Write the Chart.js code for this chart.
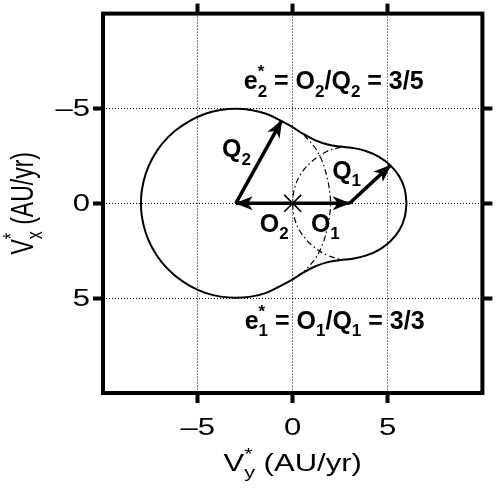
<!DOCTYPE html>
<html>
<head>
<meta charset="utf-8">
<script src="https://cdn.jsdelivr.net/npm/chart.js@4.4.0/dist/chart.umd.min.js"></script>
<style>
  html, body { margin: 0; padding: 0; background: #fff; }
  #wrap { width: 496px; height: 490px; }
</style>
</head>
<body>
<div id="wrap"><canvas id="vplot" width="496" height="490"></canvas></div>
<script>
// tick marks / labels (same for both axes)
var tickVals = [-5, 0, 5];
var tickText = ['\u20135', '0', '5'];

// outline of the region, V_y* (horizontal) and V_x* (vertical)
var shapeVy = [6.00, 5.90, 5.62, 5.15, 4.55, 3.85, 3.15, 2.50, 1.85, 1.20, 0.55, 0.00, -0.61,
  -1.40, -2.20, -3.00, -3.80, -4.60, -5.40, -6.20, -6.90, -7.40, -7.75, -7.95, -8.00,
  -7.95, -7.75, -7.40, -6.90, -6.20, -5.40, -4.60, -3.80, -3.00, -2.20, -1.40, -0.61,
  0.00, 0.55, 1.20, 1.85, 2.50, 3.15, 3.85, 4.55, 5.15, 5.62, 5.90, 6.00];
var shapeVx = [0.00, -0.75, -1.42, -2.00, -2.45, -2.76, -2.92, -2.99, -3.10, -3.32, -3.66, -4.01, -4.34,
  -4.72, -4.92, -4.98, -4.92, -4.72, -4.36, -3.82, -3.12, -2.36, -1.55, -0.70, 0.00,
  0.70, 1.55, 2.36, 3.12, 3.82, 4.36, 4.72, 4.92, 4.98, 4.92, 4.72, 4.34,
  4.01, 3.66, 3.32, 3.10, 2.99, 2.92, 2.76, 2.45, 2.00, 1.42, 0.75, 0.00];

// inner arc of the small circle (through the origin)
var arcSmallVy = [2.55, 1.80, 1.00, 0.40, 0.10, 0.00, 0.10, 0.40, 1.00, 1.80, 2.55];
var arcSmallVx = [-2.97, -2.73, -2.20, -1.50, -0.80, 0.00, 0.80, 1.50, 2.20, 2.73, 2.97];
// inner arc of the big circle
var arcBigVy = [0.60, 1.20, 1.60, 1.85, 1.95, 2.00, 1.95, 1.85, 1.60, 1.20, 0.60];
var arcBigVx = [-3.60, -2.90, -2.10, -1.20, -0.60, 0.00, 0.60, 1.20, 2.10, 2.90, 3.60];

// vectors [fromVy, fromVx, toVy, toVx]
var vecO2 = [0, 0, -3, 0];
var vecO1 = [0, 0, 3, 0];
var vecQ2 = [-3, 0, -0.58, -4.36];
var vecQ1 = [3, 0, 5.15, -2.00];
var originPt = [0, 0];

var FONT = '"Liberation Sans", Arial, Helvetica, sans-serif';
var SX = 1.35;   // axis text is drawn a bit wide, like the original

function pts(xs, ys) {
  return xs.map(function (v, i) { return {x: v, y: ys[i]}; });
}
function seg(v) {
  return [{x: v[0], y: v[1]}, {x: v[2], y: v[3]}];
}

function richLayout(ctx, parts, size, weight) {
  var items = [], cx = 0, supW = 0;
  parts.forEach(function (p) {
    var role = p[1] || '';
    var fs = role ? Math.round(size * 0.68) : size;
    var f = weight + ' ' + fs + 'px ' + FONT;
    ctx.font = f;
    var w = ctx.measureText(p[0]).width;
    var dy = role === 'sup' ? -size * 0.48 : (role === 'sub' ? size * 0.3 : 0);
    items.push({t: p[0], font: f, x: cx, y: dy});
    if (role === 'sup') supW = w;
    else if (role === 'sub') { cx += Math.max(w, supW); supW = 0; }
    else cx += w;
  });
  return {items: items, width: cx};
}

function drawRich(ctx, parts, x, y, o) {
  ctx.save();
  var lay = richLayout(ctx, parts, o.size, o.weight || 'normal');
  ctx.translate(x, y);
  if (o.rotate) { ctx.rotate(-Math.PI / 2); ctx.scale(1, o.sx || 1); }
  else ctx.scale(o.sx || 1, 1);
  var off = 0;
  if (o.align === 'center') off = -lay.width / 2;
  if (o.align === 'right') off = -lay.width;
  ctx.fillStyle = '#000';
  ctx.textBaseline = 'alphabetic';
  ctx.textAlign = 'left';
  lay.items.forEach(function (it) {
    ctx.font = it.font;
    ctx.fillText(it.t, it.x + off, it.y);
  });
  ctx.restore();
}

var eq2 = [['e'], ['*', 'sup'], ['2', 'sub'], [' = O'], ['2', 'sub'], ['/Q'], ['2', 'sub'], [' = 3/5']];
var eq1 = [['e'], ['*', 'sup'], ['1', 'sub'], [' = O'], ['1', 'sub'], ['/Q'], ['1', 'sub'], [' = 3/3']];

var arrowHeads = {
  id: 'arrowHeads',
  afterDatasetsDraw: function (chart) {
    var ctx = chart.ctx;
    chart.data.datasets.forEach(function (ds, i) {
      if (!ds.arrow) return;
      var p = chart.getDatasetMeta(i).data;
      var a = p[0], b = p[p.length - 1];
      var ang = Math.atan2(b.y - a.y, b.x - a.x);
      ctx.save();
      ctx.translate(b.x, b.y);
      ctx.rotate(ang);
      ctx.beginPath();
      ctx.moveTo(1, 0);
      ctx.lineTo(-17, -7);
      ctx.lineTo(-12, 0);
      ctx.lineTo(-17, 7);
      ctx.closePath();
      ctx.fillStyle = '#000';
      ctx.fill();
      ctx.restore();
    });
  }
};

var texts = {
  id: 'texts',
  afterDraw: function (chart) {
    var ctx = chart.ctx, xs = chart.scales.x, ys = chart.scales.y, a = chart.chartArea;
    ctx.save();
    ctx.lineWidth = 4;
    ctx.strokeStyle = '#000';
    ctx.strokeRect(a.left, a.top, a.right - a.left, a.bottom - a.top);
    ctx.restore();

    tickVals.forEach(function (v, i) {
      drawRich(ctx, [[tickText[i]]], xs.getPixelForValue(v), 435, {size: 23, sx: SX, align: 'center'});
      drawRich(ctx, [[tickText[i]]], 90, ys.getPixelForValue(v) + 8, {size: 23, sx: SX, align: 'right'});
    });

    drawRich(ctx, [['V'], ['*', 'sup'], ['y', 'sub'], [' (AU/yr)']], (a.left + a.right) / 2, 471,
      {size: 23, sx: SX, align: 'center'});
    drawRich(ctx, [['V'], ['*', 'sup'], ['x', 'sub'], [' (AU/yr)']], 33, (a.top + a.bottom) / 2,
      {size: 23, sx: SX, align: 'center', rotate: true});

    var notes = [
      {parts: [['Q'], ['2', 'sub']], vy: -3.73, vx: -2.44},
      {parts: [['Q'], ['1', 'sub']], vy: 2.08, vx: -1.30},
      {parts: [['O'], ['2', 'sub']], vy: -1.74, vx: 1.50},
      {parts: [['O'], ['1', 'sub']], vy: 0.96, vx: 1.50},
      {parts: eq2, vy: -2.58, vx: -6.00},
      {parts: eq1, vy: -2.53, vx: 6.60}
    ];
    notes.forEach(function (n) {
      drawRich(ctx, n.parts, xs.getPixelForValue(n.vy), ys.getPixelForValue(n.vx),
        {size: 25, weight: 'bold'});
    });
  }
};

function axis(pos, size, onArea, reverse) {
  var vert = pos === 'left' || pos === 'right';
  return {
    type: 'linear',
    position: pos,
    axis: vert ? 'y' : 'x',
    min: -10,
    max: 10,
    reverse: !!reverse,
    afterBuildTicks: function (s) { s.ticks = tickVals.map(function (v) { return {value: v}; }); },
    afterFit: function (s) { if (vert) s.width = size; else s.height = size; },
    ticks: {display: false},
    grid: {
      drawOnChartArea: onArea,
      color: '#000',
      lineWidth: 1,
      drawTicks: true,
      tickLength: 10,
      tickWidth: 4,
      tickColor: '#000'
    },
    border: {display: false, dash: [1, 2]}
  };
}

var lineDs = function (data, width, dash) {
  return {
    type: 'scatter', data: data, showLine: true, borderColor: '#000', borderWidth: width,
    borderDash: dash || [], pointRadius: 0, fill: false, tension: 0
  };
};

var outline = lineDs(pts(shapeVy, shapeVx), 2);
outline.tension = 0.4;
var arcS = lineDs(pts(arcSmallVy, arcSmallVx), 1.2, [6, 3, 1.5, 3]);
arcS.tension = 0.35;
var arcB = lineDs(pts(arcBigVy, arcBigVx), 1.2, [6, 3, 1.5, 3]);
arcB.tension = 0.35;
var arrows = [vecO2, vecO1, vecQ2, vecQ1].map(function (v) {
  var d = lineDs(seg(v), 3.5);
  d.arrow = true;
  return d;
});
var marker = {
  type: 'scatter', data: [{x: originPt[0], y: originPt[1]}], pointStyle: 'crossRot',
  pointRadius: 12, borderWidth: 1.6, borderColor: '#000', backgroundColor: '#000'
};

new Chart(document.getElementById('vplot').getContext('2d'), {
  type: 'scatter',
  data: {datasets: [outline, arcS, arcB].concat(arrows, [marker])},
  options: {
    responsive: false,
    animation: false,
    devicePixelRatio: 1,
    layout: {padding: 0},
    plugins: {legend: {display: false}, tooltip: {enabled: false}},
    scales: {
      x: axis('bottom', 97, true),
      y: axis('left', 103, true, true),
      xTop: axis('top', 12, false),
      yRight: axis('right', 11, false, true)
    }
  },
  plugins: [arrowHeads, texts]
});
</script>
</body>
</html>
